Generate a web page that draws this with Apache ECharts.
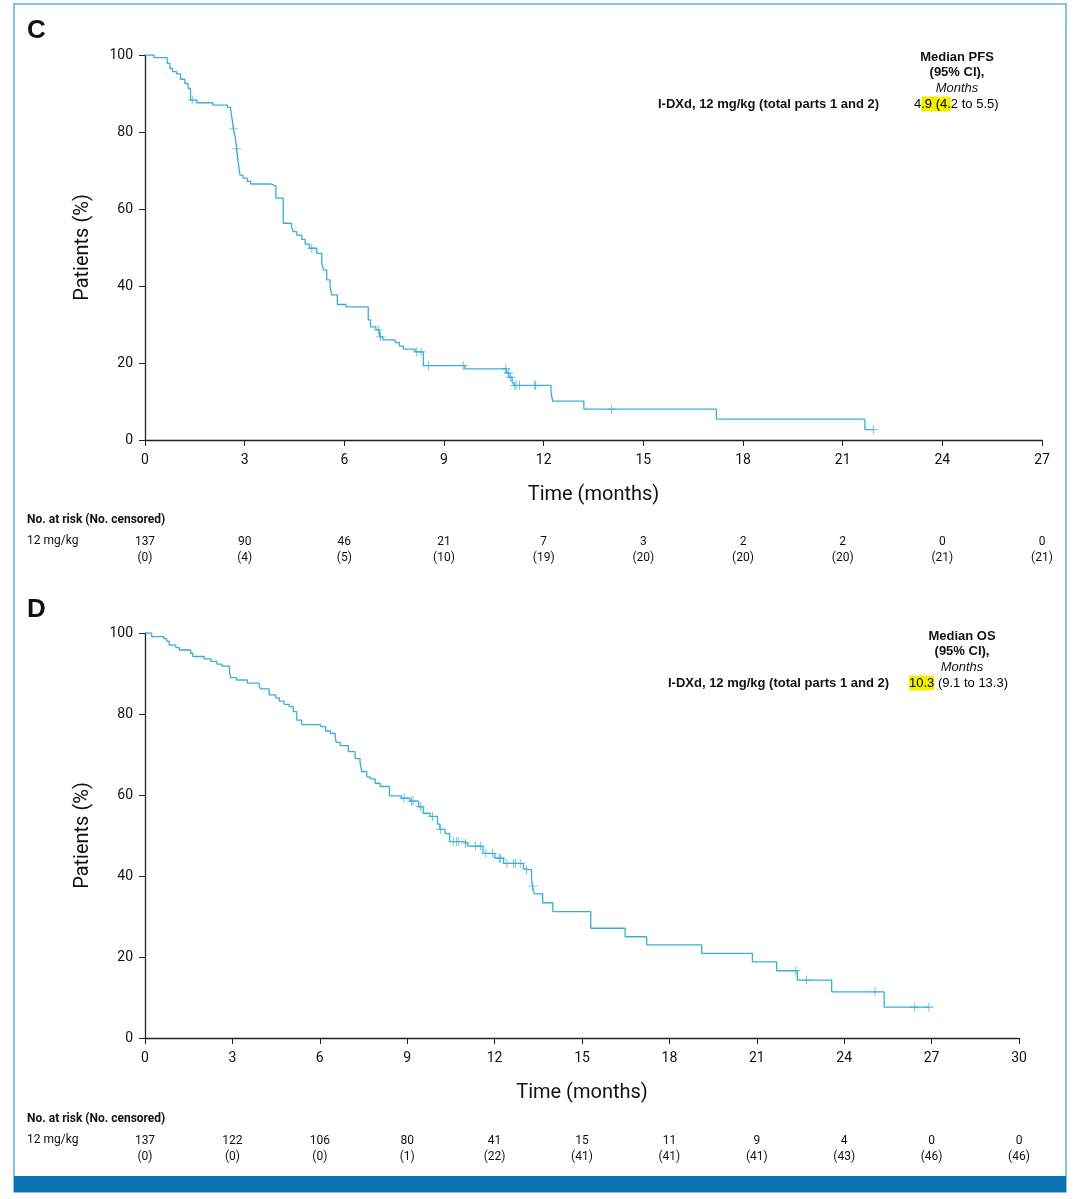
<!DOCTYPE html>
<html>
<head>
<meta charset="utf-8">
<script src="https://cdn.jsdelivr.net/npm/echarts@6/dist/echarts.min.js"></script>
<style>
  html, body { margin: 0; padding: 0; background: #fff; }
  #chart { width: 1080px; height: 1199px; }
</style>
</head>
<body>
<div id="chart"></div>
<script>
// PFS curve (panel C)
const pfsTime = [0, 0.27, 0.67, 0.75, 0.83, 0.95, 1.07, 1.20, 1.30, 1.37, 1.56, 2.04, 2.48, 2.58, 2.62, 2.66, 2.72, 2.76, 2.80, 2.86, 2.95, 3.08, 3.18, 3.78, 3.94, 4.16, 4.41, 4.46, 4.57, 4.72, 4.82, 4.95, 5.17, 5.32, 5.37, 5.47, 5.57, 5.62, 5.79, 6.05, 6.72, 6.79, 6.95, 7.06, 7.16, 7.53, 7.66, 7.78, 8.13, 8.38, 9.63, 10.88, 10.95, 11.05, 11.11, 12.22, 12.27, 13.21, 17.2, 21.67, 21.92];
const pfsSurv = [100, 99.3, 97.8, 96.5, 95.7, 95.1, 93.7, 92.6, 91.3, 88.3, 87.6, 87.0, 86.4, 85.7, 83.5, 80.8, 78.5, 75.6, 72.5, 68.8, 68.0, 67.2, 66.5, 66.0, 62.8, 56.3, 55.4, 54.1, 53.2, 52.1, 50.9, 49.8, 48.5, 46.0, 44.2, 41.6, 39.9, 37.7, 35.2, 34.6, 31.2, 29.4, 28.6, 26.8, 26.0, 25.3, 24.4, 23.6, 22.9, 19.3, 18.5, 17.4, 16.3, 15.2, 14.2, 12.5, 10.1, 8.0, 5.4, 2.7, 2.7];
const pfsCensor = [1.42, 2.67, 2.76, 5.02, 7.02, 7.09, 8.18, 8.31, 8.53, 9.58, 10.86, 10.94, 11.0, 11.13, 11.17, 11.27, 11.72, 11.76, 14.05, 21.92];

// OS curve (panel D)
const osTime = [0, 0.23, 0.65, 0.74, 0.83, 1.06, 1.18, 1.57, 1.64, 2.03, 2.26, 2.47, 2.64, 2.90, 2.94, 3.14, 3.51, 3.92, 3.97, 4.26, 4.49, 4.61, 4.77, 4.95, 5.09, 5.21, 5.38, 6.03, 6.20, 6.36, 6.53, 6.56, 6.70, 6.98, 7.21, 7.38, 7.44, 7.61, 7.73, 7.90, 8.07, 8.39, 8.80, 9.09, 9.39, 9.55, 9.78, 10.04, 10.12, 10.30, 10.46, 10.95, 11.08, 11.6, 12.01, 12.31, 12.99, 13.05, 13.27, 13.30, 13.36, 13.65, 14.0, 15.30, 16.48, 17.22, 19.11, 20.85, 21.68, 22.39, 23.57, 25.37, 26.91];
const osSurv = [100, 99.1, 98.6, 98.0, 97.0, 96.4, 95.8, 95.0, 94.2, 93.6, 93.0, 92.3, 91.8, 90.5, 89.0, 88.4, 87.6, 86.8, 86.2, 84.7, 84.0, 83.2, 82.4, 81.8, 80.6, 78.5, 77.4, 76.9, 75.8, 75.2, 74.4, 73.0, 72.2, 70.7, 69.0, 68.2, 65.8, 64.5, 64.0, 62.9, 62.1, 59.8, 59.2, 58.5, 57.1, 55.5, 54.7, 52.8, 51.5, 50.5, 48.5, 48.1, 47.4, 45.6, 44.4, 43.1, 41.9, 41.5, 39.0, 37.5, 35.6, 33.4, 31.2, 27.1, 25.0, 23.0, 20.9, 18.8, 16.6, 14.3, 11.4, 7.6, 7.6];
const osCensor = [8.89, 9.15, 9.20, 9.45, 9.87, 10.15, 10.58, 10.69, 10.77, 11.0, 11.34, 11.51, 11.7, 11.93, 12.16, 12.2, 12.42, 12.65, 12.71, 12.88, 13.09, 13.31, 22.34, 22.71, 25.06, 26.41, 26.91];

// number at risk tables
const pfsRisk = [137, 90, 46, 21, 7, 3, 2, 2, 0, 0];
const pfsRiskCens = [0, 4, 5, 10, 19, 20, 20, 20, 21, 21];
const osRisk = [137, 122, 106, 80, 41, 15, 11, 9, 4, 0, 0];
const osRiskCens = [0, 0, 0, 1, 22, 41, 41, 41, 43, 46, 46];

const lineColor = '#3aaed6';
const narrow = "Roboto, 'Liberation Sans', sans-serif";
const arial = "'Liberation Sans', Arial, sans-serif";
const plus = 'path://M-0.09,-1H0.09V-0.09H1V0.09H0.09V1H-0.09V0.09H-1V-0.09H-0.09Z';

function zipCurve(ts, ss) {
    return ts.map((t, i) => [t, ss[i]]);
}
function survAt(ts, ss, t) {
    let s = ss[0];
    for (let i = 0; i < ts.length; i++) {
        if (ts[i] <= t + 1e-9) s = ss[i]; else break;
    }
    return s;
}

function mainX(grid, max) {
    return {
        type: 'value', gridIndex: grid, min: 0, max: max, interval: 3,
        axisLine: { lineStyle: { color: '#222', width: 1.3 } },
        axisTick: { length: 6, lineStyle: { color: '#222' } },
        splitLine: { show: false },
        axisLabel: { fontFamily: narrow, fontSize: 14, color: '#111', margin: 13 },
        name: 'Time (months)', nameLocation: 'middle', nameGap: 45,
        nameTextStyle: { fontFamily: narrow, fontSize: 20, color: '#111' }
    };
}
function riskX(grid, max, risk, cens, offset) {
    return {
        type: 'value', gridIndex: grid, min: 0, max: max, interval: 3,
        position: 'bottom', offset: offset,
        axisLine: { show: false }, axisTick: { show: false }, splitLine: { show: false },
        axisLabel: {
            margin: 0, fontFamily: narrow, fontSize: 12, color: '#111', lineHeight: 16,
            formatter: (v, i) => risk[i] + '\n(' + cens[i] + ')'
        }
    };
}
function mainY(grid) {
    return {
        type: 'value', gridIndex: grid, min: 0, max: 100, interval: 20,
        axisLine: { show: true, lineStyle: { color: '#222', width: 1.3 } },
        axisTick: { show: true, length: 6, lineStyle: { color: '#222' } },
        splitLine: { show: false },
        axisLabel: { fontFamily: narrow, fontSize: 14, color: '#111', margin: 12 },
        name: 'Patients (%)', nameLocation: 'middle', nameGap: 52, nameRotate: 90,
        nameTextStyle: { fontFamily: narrow, fontSize: 20, color: '#111' }
    };
}

function text(x, y, str, font, extra) {
    return {
        type: 'text', x: x, y: y,
        style: Object.assign({ text: str, fill: '#111', font: font, textVerticalAlign: 'middle' }, extra || {})
    };
}
function centered(x, y, str, font) {
    return text(x, y, str, font, { textAlign: 'center' });
}

let chart = echarts.init(document.getElementById('chart'), null, { renderer: 'canvas' });

let options = {
    animation: false,
    backgroundColor: '#fff',
    grid: [
        { left: 145, top: 55, width: 897, height: 385 },
        { left: 145, top: 633, width: 874, height: 405 }
    ],
    xAxis: [
        mainX(0, 27),
        riskX(0, 27, pfsRisk, pfsRiskCens, 94),
        mainX(1, 30),
        riskX(1, 30, osRisk, osRiskCens, 95)
    ],
    yAxis: [mainY(0), mainY(1)],
    series: [
        {
            type: 'line', step: 'end', xAxisIndex: 0, yAxisIndex: 0, showSymbol: false,
            lineStyle: { color: lineColor, width: 1.3 },
            data: zipCurve(pfsTime, pfsSurv)
        },
        {
            type: 'scatter', xAxisIndex: 0, yAxisIndex: 0, symbol: plus, symbolSize: 9,
            itemStyle: { color: '#2aa3d2' },
            data: pfsCensor.map(t => [t, survAt(pfsTime, pfsSurv, t)])
        },
        {
            type: 'line', step: 'end', xAxisIndex: 2, yAxisIndex: 1, showSymbol: false,
            lineStyle: { color: lineColor, width: 1.3 },
            data: zipCurve(osTime, osSurv)
        },
        {
            type: 'scatter', xAxisIndex: 2, yAxisIndex: 1, symbol: plus, symbolSize: 9,
            itemStyle: { color: '#2aa3d2' },
            data: osCensor.map(t => [t, survAt(osTime, osSurv, t)])
        }
    ],
    graphic: [
        // frame and bottom band
        { type: 'rect', shape: { x: 14, y: 4, width: 1052, height: 1188 }, style: { fill: 'none', stroke: '#5fb0e0', lineWidth: 1.5 } },
        { type: 'rect', shape: { x: 14, y: 1176, width: 1052, height: 16 }, style: { fill: '#0a72b0' } },

        // panel C
        text(27, 31, 'C', 'bold 26px ' + arial),
        centered(957, 57, 'Median PFS', 'bold 13px ' + arial),
        centered(957, 72, '(95% CI),', 'bold 13px ' + arial),
        centered(957, 88, 'Months', 'italic 13px ' + arial),
        text(879, 104, 'I-DXd, 12 mg/kg (total parts 1 and 2)', 'bold 13px ' + arial, { textAlign: 'right' }),
        {
            type: 'text', x: 914, y: 104,
            style: {
                text: '{a|4}{h|.9 (4.}{a|2 to 5.5)}', textVerticalAlign: 'middle',
                rich: {
                    a: { font: '13px ' + arial, color: '#111' },
                    h: { font: '13px ' + arial, color: '#111', backgroundColor: '#f5f000', padding: [1, 0, 1, 0] }
                }
            }
        },
        text(27, 520, 'No. at risk (No. censored)', 'bold 12px ' + narrow),
        text(27, 541, '12 mg/kg', '12px ' + narrow),

        // panel D
        text(27, 610, 'D', 'bold 26px ' + arial),
        centered(962, 636, 'Median OS', 'bold 13px ' + arial),
        centered(962, 651, '(95% CI),', 'bold 13px ' + arial),
        centered(962, 667, 'Months', 'italic 13px ' + arial),
        text(889, 683, 'I-DXd, 12 mg/kg (total parts 1 and 2)', 'bold 13px ' + arial, { textAlign: 'right' }),
        {
            type: 'text', x: 909, y: 683,
            style: {
                text: '{h|10.3}{a| (9.1 to 13.3)}', textVerticalAlign: 'middle',
                rich: {
                    a: { font: '13px ' + arial, color: '#111' },
                    h: { font: '13px ' + arial, color: '#111', backgroundColor: '#f5f000', padding: [1, 0, 1, 0] }
                }
            }
        },
        text(27, 1119, 'No. at risk (No. censored)', 'bold 12px ' + narrow),
        text(27, 1140, '12 mg/kg', '12px ' + narrow)
    ]
};

chart.setOption(options);
</script>
</body>
</html>
